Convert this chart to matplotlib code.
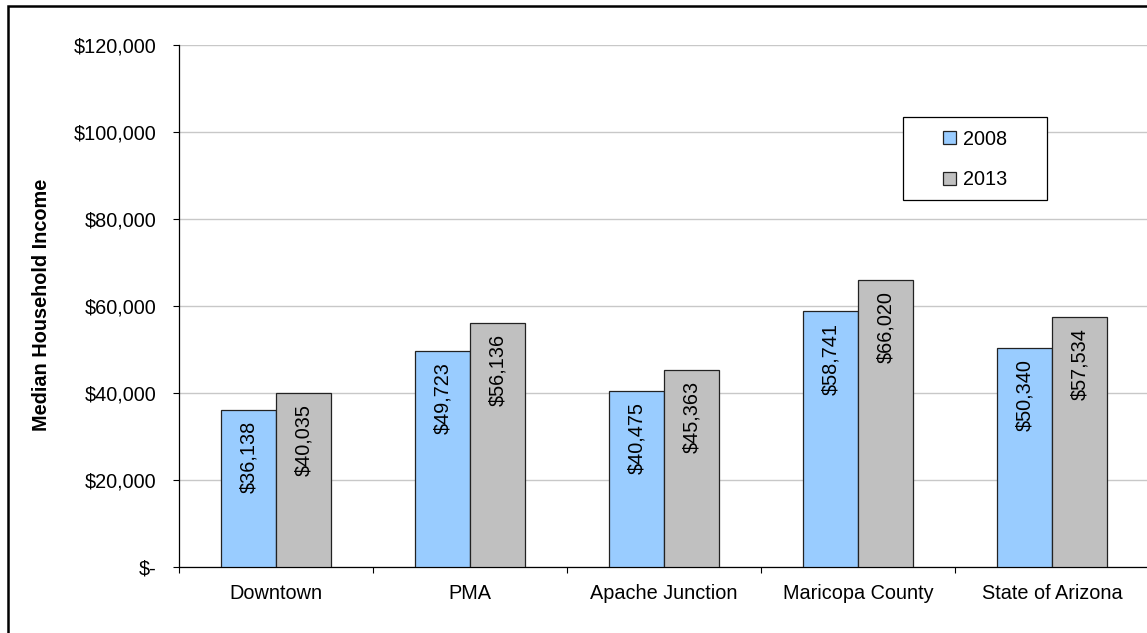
import matplotlib
matplotlib.use("Agg")
import matplotlib.pyplot as plt
from matplotlib.patches import Rectangle
import numpy as np

categories = ["Downtown", "PMA", "Apache Junction", "Maricopa County", "State of Arizona"]
series_names = ["2008", "2013"]
values_2008 = [36138, 49723, 40475, 58741, 50340]
values_2013 = [40035, 56136, 45363, 66020, 57534]
y_ticks = [0, 20000, 40000, 60000, 80000, 100000, 120000]
y_tick_labels = ["$-", "$20,000", "$40,000", "$60,000", "$80,000", "$100,000", "$120,000"]
y_label = "Median Household Income"

colors = ["#99CCFF", "#C0C0C0"]

plt.rcParams['font.family'] = ['Liberation Sans', 'DejaVu Sans']
FS = 14.3

W, H = 1147, 633
fig = plt.figure(figsize=(W / 100, H / 100), dpi=100)
ax = fig.add_axes([179 / W, (H - 567) / H, 970 / W, 522 / H])

x = np.arange(len(categories))
bw = 0.285
bars1 = ax.bar(x - bw / 2, values_2008, bw, color=colors[0], edgecolor="#222222",
               linewidth=0.9, label=series_names[0], zorder=3)
bars2 = ax.bar(x + bw / 2, values_2013, bw, color=colors[1], edgecolor="#222222",
               linewidth=0.9, label=series_names[1], zorder=3)

for bars, vals in ((bars1, values_2008), (bars2, values_2013)):
    for b, v in zip(bars, vals):
        ax.annotate(f"${v:,}", (b.get_x() + b.get_width() / 2, v),
                    xytext=(0, -8), textcoords="offset points",
                    rotation=90, ha="center", va="top", fontsize=FS, zorder=4)

ax.set_xlim(-0.5, len(categories) - 0.5)
ax.set_ylim(0, 120000)
ax.set_yticks(y_ticks)
ax.set_yticklabels(y_tick_labels, fontsize=FS)
ax.tick_params(axis="y", direction="out", length=4.5, width=0.8, pad=12, colors="black")

ax.set_xticks(np.arange(-0.5, len(categories), 1.0))
ax.set_xticklabels([])
ax.set_xticks(x, minor=True)
ax.set_xticklabels(categories, minor=True, fontsize=FS)
ax.tick_params(axis="x", which="major", direction="out", length=4.5, width=0.8)
ax.tick_params(axis="x", which="minor", length=0, pad=12)

ax.yaxis.grid(True, color="#C8C8C8", linewidth=1.0)
ax.set_axisbelow(True)
for s in ("top", "right"):
    ax.spines[s].set_visible(False)
for s in ("left", "bottom"):
    ax.spines[s].set_linewidth(0.9)
    ax.spines[s].set_color("black")

fig.text(42 / W, 1 - 305 / H, y_label, rotation=90, ha="center", va="center",
         fontsize=FS, fontweight="bold")

# legend box
box = Rectangle((903 / W, 1 - 200 / H), 144 / W, 83 / H, transform=fig.transFigure,
                facecolor="white", edgecolor="black", linewidth=0.9, zorder=4)
fig.add_artist(box)
leg = fig.legend(handles=[bars1, bars2], labels=series_names, loc="center",
                 bbox_to_anchor=(975 / W, 1 - 159.5 / H), frameon=False,
                 fontsize=FS, handlelength=0.65, handleheight=0.65,
                 handletextpad=0.35, labelspacing=1.1, borderpad=0)
leg.set_zorder(5)

# outer border (left & top visible)
border = Rectangle((8 / W, -0.2), 1.5, 1.2 - 6 / H, transform=fig.transFigure,
                   fill=False, edgecolor="black", linewidth=1.8, zorder=6)
fig.add_artist(border)

fig.savefig("out.png", dpi=100)
